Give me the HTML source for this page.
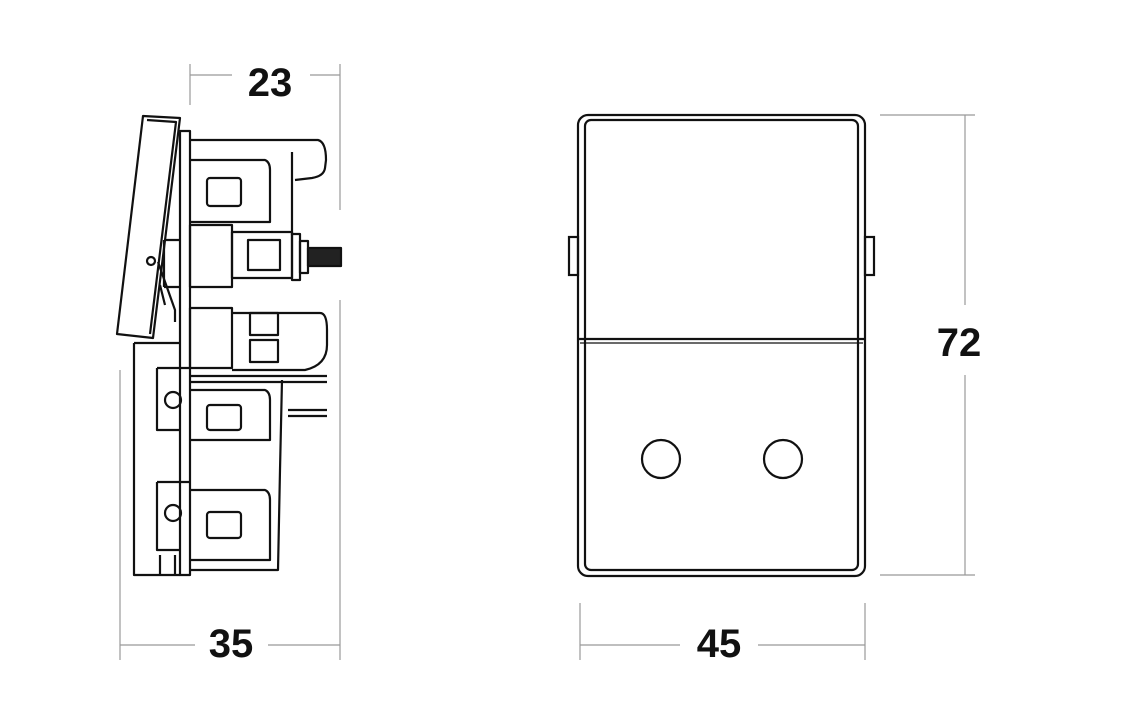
<!DOCTYPE html>
<html><head><style>
html,body{margin:0;padding:0;background:#fff;width:1141px;height:720px;overflow:hidden}
text{font-family:"Liberation Sans",sans-serif;font-weight:bold;font-size:40px;fill:#111}
</style></head><body>
<svg width="1141" height="720" viewBox="0 0 1141 720" xmlns="http://www.w3.org/2000/svg">
<g fill="none" stroke="#999" stroke-width="1.2">
<line x1="190" y1="64" x2="190" y2="105"/><line x1="340" y1="64" x2="340" y2="210"/>
<line x1="190" y1="75" x2="232" y2="75"/><line x1="310" y1="75" x2="340" y2="75"/>
<line x1="120" y1="370" x2="120" y2="660"/><line x1="340" y1="300" x2="340" y2="660"/>
<line x1="120" y1="645" x2="195" y2="645"/><line x1="268" y1="645" x2="340" y2="645"/>
<line x1="580" y1="603" x2="580" y2="660"/><line x1="865" y1="603" x2="865" y2="660"/>
<line x1="580" y1="645" x2="680" y2="645"/><line x1="758" y1="645" x2="865" y2="645"/>
<line x1="880" y1="115" x2="975" y2="115"/><line x1="880" y1="575" x2="975" y2="575"/>
<line x1="965" y1="115" x2="965" y2="305"/><line x1="965" y1="375" x2="965" y2="575"/>
</g>
<text x="270" y="96" text-anchor="middle">23</text>
<text x="231" y="657" text-anchor="middle">35</text>
<text x="719" y="657" text-anchor="middle">45</text>
<text x="959" y="356" text-anchor="middle">72</text>

<g fill="none" stroke="#111" stroke-width="2.2" stroke-linejoin="round">
<path d="M143,116 L180,118 L153,338 L117,334 Z"/>
<path d="M147,120 L176,122 L150,334"/>
<rect x="180" y="131" width="10" height="444"/>
<path d="M190,140 L318,140 Q326,142 326,160 L325,168 Q324,176 312,178 L295,180"/>
<line x1="292" y1="152" x2="292" y2="235"/>
<path d="M190,160 L265,160 Q270,162 270,170 L270,222 L190,222"/>
<rect x="207" y="178" width="34" height="28" rx="3"/>
<rect x="190" y="225" width="42" height="62"/>
<rect x="232" y="232" width="60" height="46"/>
<rect x="248" y="240" width="32" height="30"/>
<rect x="292" y="234" width="8" height="46"/>
<rect x="300" y="241" width="8" height="32"/>
<rect x="308" y="248" width="33" height="18" fill="#222"/>
<path d="M164,240 L180,240 M164,287 L180,287 M164,240 L164,287"/>
<circle cx="151" cy="261" r="4"/>
<path d="M158,262 L175,310 L175,322 M160,285 L165,305"/>
<rect x="190" y="308" width="42" height="60"/>
<path d="M232,313 L320,313 Q327,313 327,330 L327,345 Q327,365 305,370 L232,370"/>
<rect x="250" y="313" width="28" height="22"/>
<rect x="250" y="340" width="28" height="22"/>
<path d="M134,343 L134,575 L180,575 M134,343 L180,343"/>
<path d="M157,368 L190,368 M157,368 L157,430 L180,430"/>
<circle cx="173" cy="400" r="8"/>
<line x1="190" y1="376" x2="327" y2="376"/><line x1="190" y1="382" x2="327" y2="382"/>
<line x1="288" y1="410" x2="327" y2="410"/><line x1="288" y1="416" x2="327" y2="416"/>
<path d="M190,390 L265,390 Q270,392 270,400 L270,440 L190,440"/>
<rect x="207" y="405" width="34" height="25" rx="3"/>
<path d="M157,482 L190,482 M157,482 L157,550 L180,550"/>
<circle cx="173" cy="513" r="8"/>
<path d="M190,490 L265,490 Q270,492 270,500 L270,560 L190,560"/>
<rect x="207" y="512" width="34" height="26" rx="3"/>
<path d="M190,570 L278,570 L280,470 L282,380"/>
<line x1="160" y1="555" x2="160" y2="575"/><line x1="175" y1="555" x2="175" y2="575"/>
</g>

<g fill="none" stroke="#111" stroke-width="2.2">
<rect x="578" y="115" width="287" height="461" rx="10"/>
<rect x="585" y="120" width="273" height="450" rx="6"/>
<line x1="578" y1="339" x2="865" y2="339"/>
<line x1="580" y1="343" x2="863" y2="343" stroke-width="1.2"/>
<rect x="569" y="237" width="9" height="38"/>
<rect x="865" y="237" width="9" height="38"/>
<circle cx="661" cy="459" r="19"/>
<circle cx="783" cy="459" r="19"/>
</g>
</svg>
</body></html>
